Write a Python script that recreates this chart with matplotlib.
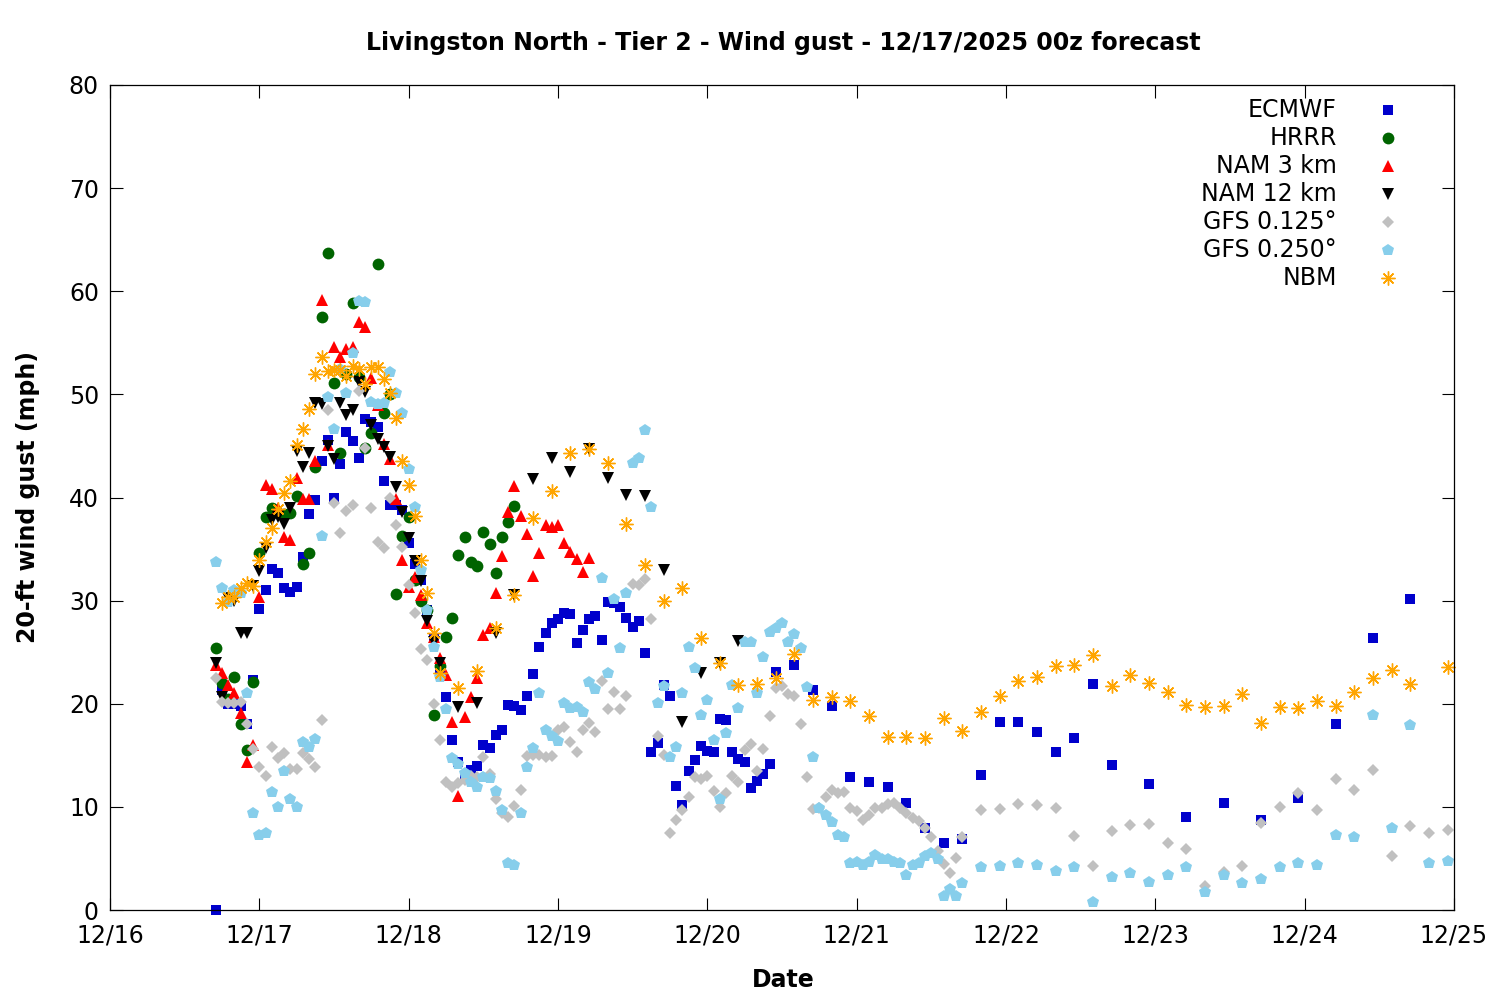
import matplotlib
matplotlib.use("Agg")
import matplotlib.pyplot as plt

plt.rcParams['font.family'] = ['DejaVu Sans']

# ---- data: hours after 12/16 00:00 local, wind gust in mph ----
ecmwf_h = list(range(17, 108)) + list(range(110, 159, 3)) + list(range(161, 210, 6))
ecmwf_v = [0, 21.3, 20.0, 20.0, 19.8, 18.0, 22.3, 29.2, 31.0, 33.1, 32.7, 31.2, 30.8, 31.3, 34.2,
           38.4, 39.8, 43.5, 45.6, 40.0, 43.2, 46.4, 45.5, 43.8, 47.6, 47.3, 46.8, 41.6, 39.3, 39.3,
           38.8, 35.6, 33.6, 32.0, 29.1, 26.4, 23.5, 20.7, 16.5, 14.4, 12.8, 13.6, 14.0, 16.0, 15.7,
           17.0, 17.5, 19.9, 19.8, 19.4, 20.8, 22.9, 25.5, 26.9, 27.8, 28.2, 28.8, 28.7, 25.9, 27.2,
           28.2, 28.5, 26.2, 29.9, 29.8, 29.4, 28.3, 27.4, 28.0, 24.9, 15.3, 16.2, 21.8, 20.8, 12.0,
           10.2, 13.5, 14.5, 15.9, 15.4, 15.3, 18.5, 18.4, 15.3, 14.6, 14.4, 11.8, 12.5, 13.2, 14.2,
           23.1,
           23.8, 21.3, 19.8, 12.9, 12.4, 11.9, 10.4, 8.0, 6.5, 6.9, 13.1, 18.2, 18.2, 17.3, 15.3, 16.7, 21.9,
           14.1, 12.2, 9.0, 10.4, 8.7, 10.9, 18.0, 26.4, 30.2]

hrrr_h = list(range(17, 66))
hrrr_v = [25.4, 22.0, 20.5, 22.6, 18.0, 15.5, 22.1, 34.6, 38.1, 39.0, 38.5, 38.4, 38.5, 40.1, 33.6,
          34.6, 43.0, 57.5, 63.7, 51.1, 44.3, 52.0, 58.9, 51.7, 44.8, 46.3, 62.6, 48.2, 50.0, 30.6,
          36.3, 38.1, 32.0, 30.0, 29.1, 18.9, 23.7, 26.5, 28.3, 34.4, 36.2, 33.7, 33.4, 36.7, 35.5,
          32.7, 36.2, 37.6, 39.2]

nam3_h = list(range(17, 78))
nam3_v = [23.8, 23.0, 21.8, 21.0, 19.1, 14.4, 16.0, 30.4, 41.2, 40.8, 39.0, 36.2, 35.9, 41.9, 39.9,
          39.9, 43.5, 59.2, 45.1, 54.6, 53.6, 54.4, 54.6, 57.0, 56.5, 51.6, 49.0, 45.2, 43.7, 39.9,
          33.9, 31.3, 32.3, 30.5, 27.8, 26.5, 24.4, 22.8, 18.2, 11.1, 18.7, 20.7, 22.5, 26.7, 27.3,
          30.7, 34.3, 38.6, 41.1, 38.2, 36.5, 32.4, 34.6, 37.3, 37.1, 37.3, 35.6, 34.7, 34.0, 32.8,
          34.1]

nam12_h = list(range(17, 54)) + list(range(56, 102, 3))
nam12_v = [24.0, 20.7, 30.3, 30.0, 26.9, 26.9, 31.4, 32.9, 35.1, 37.8, 38.1, 37.4, 39.0, 44.5, 43.0,
           44.3, 49.2, 49.1, 45.0, 43.7, 49.2, 48.0, 48.5, 51.2, 50.2, 47.0, 45.7, 44.9, 43.9, 41.0,
           38.6, 36.1, 33.8, 31.9, 28.0, 26.0, 24.0,
           19.7, 20.1, 26.9, 30.5, 41.8, 43.8, 42.5, 44.7, 41.9, 40.2, 40.1, 33.0, 18.2, 23.0, 24.0, 26.1]

gfs125_h = list(range(17, 138)) + list(range(140, 216, 3))
gfs125_v = [22.5, 20.2, 20.1, 20.1, 20.2, 18.0, 15.6, 13.9, 13.0, 15.8, 14.7, 15.2, 13.7, 13.7, 15.2,
            14.6, 13.9, 18.4, 48.5, 39.5, 36.6, 38.7, 39.3, 50.3, 44.8, 39.0, 35.7, 35.1, 40.0, 37.3,
            35.2, 31.5, 28.8, 25.3, 24.2, 20.0, 16.5, 12.4, 11.9, 12.3, 12.6, 13.0, 12.9, 14.8, 13.2,
            10.8, 9.4, 9.0, 10.1, 11.6, 14.9, 15.0, 15.0, 14.8, 14.9, 17.5, 17.7, 16.3, 15.3, 17.5,
            18.1, 17.3, 22.2, 19.5, 21.1, 19.5, 20.8, 31.6, 31.5, 32.1, 28.2, 16.9, 15.0, 7.5, 8.7,
            9.7, 11.0, 12.9, 12.7, 13.0, 11.5, 10.0, 11.3, 13.0, 12.4, 15.5, 16.1, 13.5, 15.6, 18.8,
            21.5, 21.7, 20.9, 20.8, 18.0, 12.9, 9.8, 9.9, 11.0, 11.6, 11.3, 11.4, 9.9, 9.6, 8.7,
            9.2, 9.9, 9.9, 10.3, 10.4, 9.9, 9.4, 8.9, 8.6, 8.0, 7.1, 5.7, 4.5, 3.6, 5.0,
            7.1,
            9.7, 9.8, 10.3, 10.2, 9.9, 7.2, 4.3, 7.7, 8.2, 8.3, 6.5, 5.9, 2.3, 3.7, 4.3,
            8.4, 10.0, 11.3, 9.7, 12.7, 11.6, 13.6, 5.2, 8.1, 7.5, 7.8]

gfs250_h = list(range(17, 138)) + list(range(140, 216, 3))
gfs250_v = [33.7, 31.2, 29.9, 31.0, 30.7, 21.0, 9.4, 7.3, 7.5, 11.4, 10.0, 13.5, 10.8, 10.0, 16.3,
            15.8, 16.6, 36.3, 49.7, 46.6, 52.5, 50.1, 54.0, 59.1, 59.0, 49.3, 49.1, 49.2, 52.2, 50.1,
            48.2, 42.8, 39.1, 33.0, 29.1, 25.5, 22.6, 19.5, 14.7, 14.2, 13.3, 12.4, 11.9, 12.9, 12.8,
            11.5, 9.7, 4.6, 4.4, 9.4, 13.9, 15.7, 21.0, 17.5, 16.9, 16.4, 20.1, 19.6, 19.7, 19.2,
            22.1, 21.4, 32.2, 23.0, 30.2, 25.4, 30.7, 43.3, 43.8, 46.5, 39.1, 20.1, 21.7, 14.8, 15.8,
            21.0, 25.5, 23.5, 18.9, 20.4, 16.5, 10.8, 17.2, 21.8, 19.6, 26.0, 26.0, 21.0, 24.5, 27.0,
            27.3, 27.8, 26.0, 26.8, 25.4, 21.6, 14.8, 9.9, 9.2, 8.5, 7.3, 7.1, 4.6, 4.7, 4.4,
            4.7, 5.3, 4.9, 4.9, 4.7, 4.6, 3.4, 4.4, 4.6, 5.2, 5.5, 4.9, 1.4, 2.0, 1.4,
            2.6,
            4.2, 4.3, 4.6, 4.4, 3.8, 4.2, 0.8, 3.2, 3.6, 2.7, 3.4, 4.2, 1.7, 3.4, 2.6,
            3.0, 4.2, 4.6, 4.4, 7.3, 7.1, 18.9, 8.0, 17.9, 4.6, 4.8]

nbm_h = list(range(18, 54)) + list(range(56, 210, 3)) + [215]
nbm_v = [29.8, 30.4, 30.4, 31.2, 31.7, 31.4, 33.9, 35.7, 37.0, 38.9, 40.4, 41.6, 45.1, 46.6, 48.6,
         52.0, 53.6, 52.3, 52.4, 52.4, 51.8, 52.8, 52.5, 51.0, 52.7, 52.7, 51.5, 50.1, 47.7, 43.5,
         41.2, 38.2, 33.9, 30.7, 26.9, 23.0,
         21.5, 23.2, 27.3, 30.5, 38.0, 40.6, 44.3, 44.7, 43.3, 37.4, 33.5, 30.0, 31.2, 26.4, 24.0,
         21.8, 21.9, 22.5, 24.8, 20.4, 20.7, 20.3, 18.8, 16.8, 16.8, 16.7, 18.6, 17.4, 19.2, 20.8,
         22.2, 22.6, 23.7, 23.8, 24.7, 21.7, 22.8, 22.0, 21.1, 19.9, 19.7, 19.8, 20.9, 18.1, 19.7,
         19.6, 20.3, 19.8, 21.1, 22.5, 23.3, 21.9,
         23.6]

x_tick_labels = ['12/16', '12/17', '12/18', '12/19', '12/20', '12/21', '12/22', '12/23', '12/24', '12/25']
y_ticks = [0, 10, 20, 30, 40, 50, 60, 70, 80]

series = [
    ('ECMWF', ecmwf_h, ecmwf_v, dict(marker='s', color='#0000cc', ms=6.8, mew=0)),
    ('HRRR', hrrr_h, hrrr_v, dict(marker='o', color='#006400', ms=8.5, mew=0)),
    ('NAM 3 km', nam3_h, nam3_v, dict(marker='^', color='#ff0000', ms=9, mew=0)),
    ('NAM 12 km', nam12_h, nam12_v, dict(marker='v', color='#000000', ms=9, mew=0)),
    ('GFS 0.125°', gfs125_h, gfs125_v, dict(marker='D', color='#c0c0c0', ms=6.5, mew=0)),
    ('GFS 0.250°', gfs250_h, gfs250_v, dict(marker='p', color='#87ceeb', ms=9, mew=0)),
    ('NBM', nbm_h, nbm_v, dict(marker=(8, 2, 0), color='#ffa500', ms=10, mew=1.0)),
]

fig = plt.figure(figsize=(15, 10), dpi=100)
ax = fig.add_axes([110 / 1500, 90 / 1000, 1344 / 1500, 825 / 1000])

for name, hh, vv, st in series:
    ax.plot([h / 24.0 for h in hh], vv, linestyle='none', **st, clip_on=False)

ax.set_xlim(0, 9)
ax.set_ylim(0, 80)
ax.set_xticks(range(len(x_tick_labels)))
ax.set_xticklabels(x_tick_labels)
ax.set_yticks(y_ticks)
ax.tick_params(axis='both', which='major', direction='in', length=9, width=0.8,
               labelsize=17, top=True, right=True)
ax.tick_params(axis='x', pad=10)
ax.tick_params(axis='y', pad=8)
for sp in ax.spines.values():
    sp.set_linewidth(0.9)

# legend (right-aligned text, marker to the right)
y0 = (910 - 110) / 825
dy = 28 / 825
for i, (name, hh, vv, st) in enumerate(series):
    yy = y0 - i * dy
    ax.text(0.9129, yy, name, transform=ax.transAxes, ha='right', va='center', fontsize=17)
    ax.plot([0.9509], [yy], transform=ax.transAxes, linestyle='none', clip_on=False, **st)

fig.text(783 / 1500, 1 - 43 / 1000, 'Livingston North - Tier 2 - Wind gust - 12/17/2025 00z forecast',
         ha='center', va='center', fontsize=17, fontweight='bold')
fig.text(783 / 1500, 1 - 980 / 1000, 'Date', ha='center', va='center', fontsize=17, fontweight='bold')
fig.text(28 / 1500, 1 - 497 / 1000, '20-ft wind gust (mph)', ha='center', va='center',
         fontsize=17, fontweight='bold', rotation=90)

fig.savefig('out.png', dpi=100)
